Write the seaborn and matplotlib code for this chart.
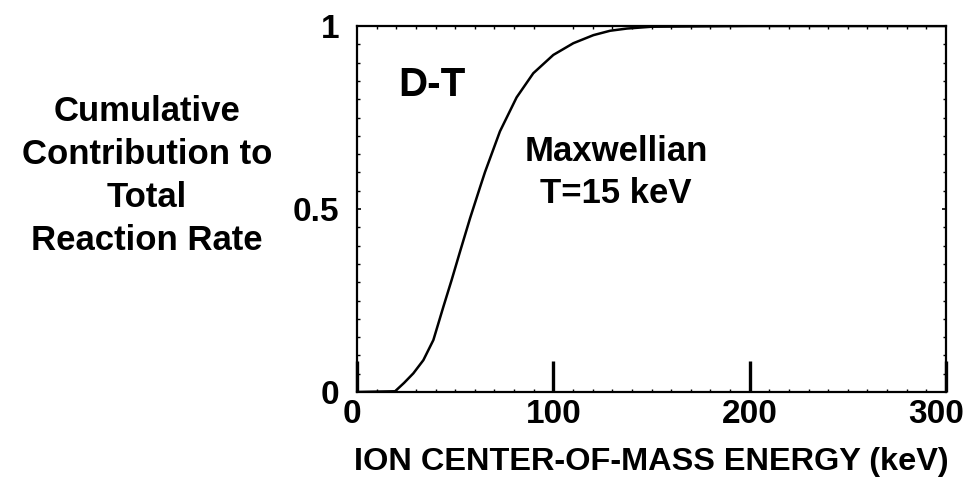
import matplotlib
matplotlib.use("Agg")
import matplotlib.pyplot as plt
import matplotlib.transforms as mtransforms
import seaborn as sns
import numpy as np
import pandas as pd
from matplotlib.ticker import MultipleLocator

# Data
energy_kev = [0, 19.4, 24, 28.7, 33.8, 38.9, 44.0, 48.2, 52.5, 57.6, 62.7,
              65.2, 72.8, 81.3, 89.8, 100, 110.2, 120.4, 128.9, 137.4, 150,
              200, 300]
cumulative = [0, 0.002, 0.025, 0.051, 0.087, 0.142, 0.233, 0.306, 0.384,
              0.475, 0.56, 0.601, 0.712, 0.805, 0.871, 0.921, 0.953, 0.975,
              0.987, 0.993, 0.998, 1.0, 1.0]
x_ticks = [0, 100, 200, 300]
y_ticks = [0, 0.5, 1]
y_tick_labels = ["0", "0.5", "1"]

sns.set_theme(style="white")
plt.rcParams['font.family'] = ['Liberation Sans', 'DejaVu Sans']
plt.rcParams['font.weight'] = 'bold'
plt.rcParams['text.color'] = 'black'
plt.rcParams['axes.labelcolor'] = 'black'
plt.rcParams['xtick.color'] = 'black'
plt.rcParams['ytick.color'] = 'black'

fig = plt.figure(figsize=(9.8, 4.8), dpi=100)
ax = fig.add_axes([357/980, 88/480, 589/980, 366/480])

df = pd.DataFrame({"E": energy_kev, "F": cumulative})
sns.lineplot(data=df, x="E", y="F", ax=ax, color="black", linewidth=1.8)

ax.set_xlim(0, 300)
ax.set_ylim(0, 1)
ax.set_xticks(x_ticks)
ax.set_xticklabels([str(t) for t in x_ticks])
ax.set_yticks(y_ticks)
ax.set_yticklabels(y_tick_labels)
ax.xaxis.set_minor_locator(MultipleLocator(10))
ax.yaxis.set_minor_locator(MultipleLocator(0.05))

for s in ax.spines.values():
    s.set_color("black")
    s.set_linewidth(1.6)

ax.tick_params(axis="x", which="major", direction="in", length=22, width=2.4,
               color="black", labelcolor="black", labelsize=24, pad=5,
               top=False, bottom=True)
ax.tick_params(axis="x", which="minor", direction="in", length=2.5, width=1,
               color="black", top=True, bottom=True)
ax.tick_params(axis="y", which="major", direction="in", length=3, width=1.2,
               color="black", labelcolor="black", labelsize=24, pad=13,
               left=True, right=True)
ax.tick_params(axis="y", which="minor", direction="in", length=2.5, width=1,
               color="black", left=True, right=True)
for lab in ax.get_xticklabels() + ax.get_yticklabels():
    lab.set_fontweight("bold")

# nudge the first and last x tick labels inward as in the reference
xlabels = ax.get_xticklabels()
for lab, dx in ((xlabels[0], -5), (xlabels[-1], -10)):
    lab.set_transform(lab.get_transform() +
                      mtransforms.ScaledTranslation(dx / 100, 0,
                                                    fig.dpi_scale_trans))

ax.set_xlabel("ION CENTER-OF-MASS ENERGY (keV)", fontsize=23.4,
              fontweight="bold", labelpad=12, color="black")
ax.set_ylabel("")

ax.text(0.127, 0.839, "D-T", transform=ax.transAxes, fontsize=29,
        fontweight="bold", ha="center", va="center", color="black")
ax.text(0.44, 0.60, "Maxwellian\nT=15 keV", transform=ax.transAxes,
        fontsize=25, fontweight="bold", ha="center", va="center",
        linespacing=1.375, color="black")

fig.text(147/980, 1 - 176/480,
         "Cumulative\nContribution to\nTotal\nReaction Rate",
         fontsize=25, fontweight="bold", ha="center", va="center",
         multialignment="center", linespacing=1.375, color="black")

fig.savefig("out.png", dpi=100, facecolor="white")
